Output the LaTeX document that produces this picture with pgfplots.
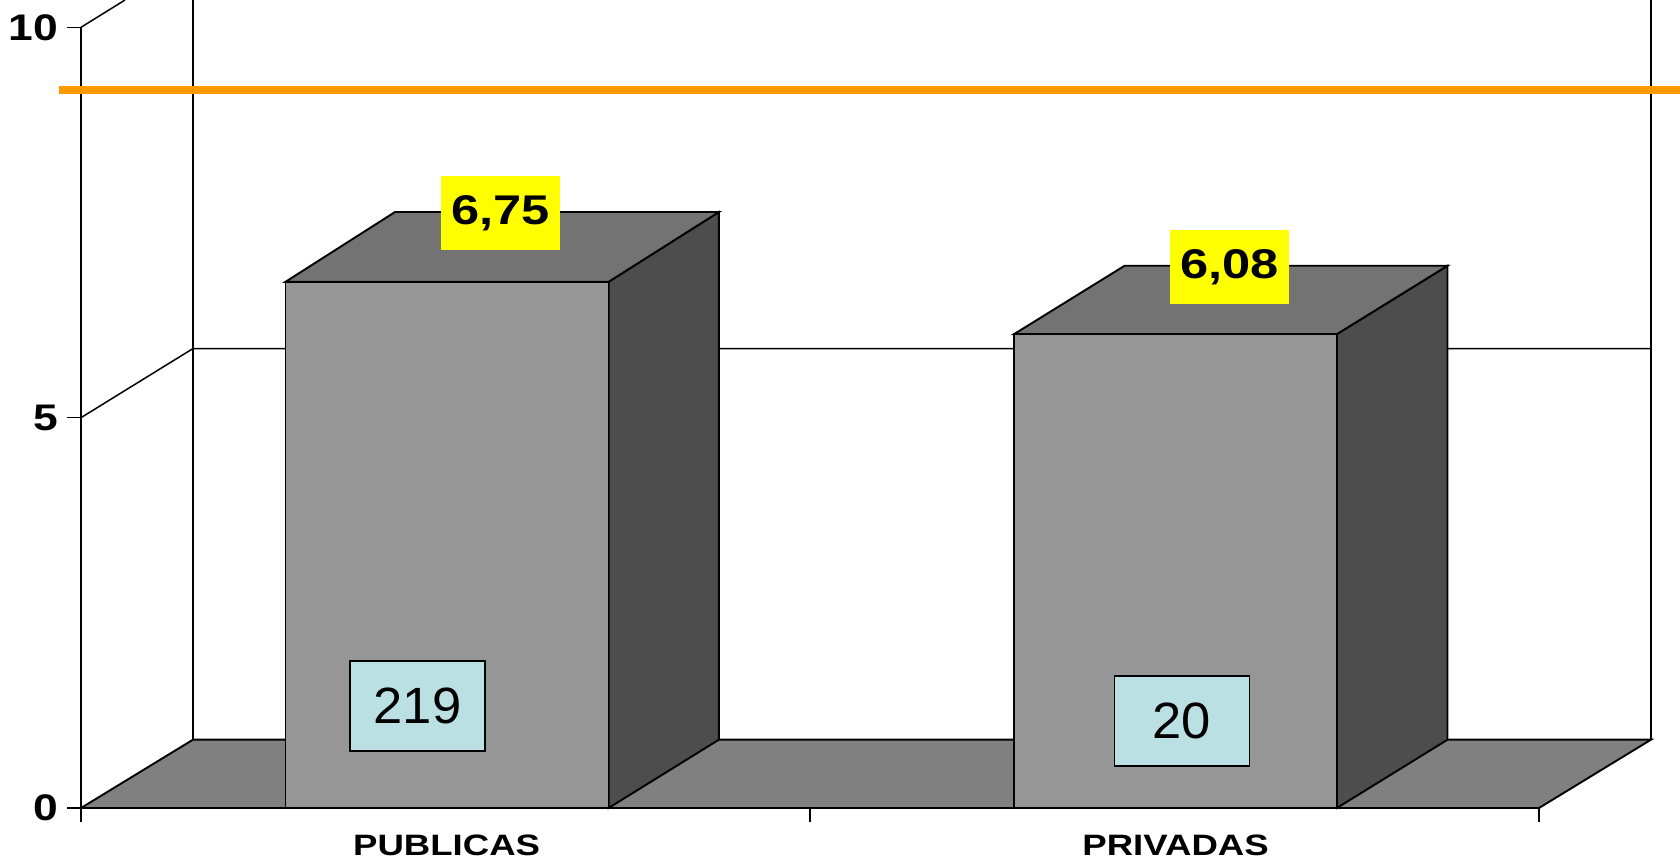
\documentclass[border=0pt]{standalone}
\usepackage{graphicx}
\usepackage{fontspec}
\setmainfont{Liberation Sans}
\usepackage{pgfplots}
\pgfplotsset{compat=1.18}
\definecolor{floorc}{HTML}{808080}
\definecolor{frontc}{HTML}{969696}
\definecolor{topc}{HTML}{737373}
\definecolor{sidec}{HTML}{4D4D4D}
\definecolor{orangec}{HTML}{FF9900}
\definecolor{boxc}{HTML}{BBE0E3}
\definecolor{yellowc}{RGB}{255,255,0}
\newcommand\sx[1]{\scalebox{1.2}[1]{#1}}
\newcommand\tickfont{\fontsize{37}{40}\selectfont\bfseries}
\begin{document}
\begin{tikzpicture}
\path[use as bounding box] (-81pt,-52pt) rectangle (1599pt,808pt);
\begin{axis}[
  scale only axis, width=1458pt, height=808pt,
  xmin=0, xmax=2, ymin=0, ymax=10.35,
  clip=false, no marks,
  axis lines=left,
  axis line style={draw=none,-},
  line width=1.9pt,
  tick style={black, line width=1.5pt},
  tick align=outside,
  major tick length=14pt,
  xtick={0,1,2}, xticklabels={,,},
  extra x ticks={0.5015,1.5015},
  extra x tick labels={\scalebox{1.24}[1]{PUBLICAS},\scalebox{1.24}[1]{PRIVADAS}},
  extra x tick style={major tick length=0pt, tick label style={font=\fontsize{29.5}{32}\selectfont\bfseries, yshift=-23pt}},
  ytick={0,5,10}, yticklabels={\sx{0},\sx{5},\sx{10}},
  yticklabel style={font=\tickfont, inner sep=0pt, xshift=-8pt},
]
% floor
\addplot[draw=black, fill=floorc] coordinates {(0,0)(0.1536,0.875)(2.1536,0.875)(2,0)} --cycle;
% back wall verticals and grid line
\addplot[black, line width=2pt] coordinates {(0.1536,0.875)(0.1536,10.35)};
\addplot[black, line width=2pt] coordinates {(2.1536,0.875)(2.1536,10.35)};
\addplot[black, line width=1.5pt] coordinates {(0,5)(0.1536,5.885)(2.1536,5.885)};
\addplot[black, line width=1.5pt] coordinates {(0,10)(0.0604,10.35)};
% front axis lines
\addplot[black, line width=1.8pt] coordinates {(0,0)(0,10)};
\addplot[black, line width=2pt] coordinates {(0,0)(2,0)};
% bar 1
\addplot[draw=black, fill=sidec] coordinates {(0.7237,0)(0.875,0.875)(0.875,7.634)(0.7237,6.74)} --cycle;
\addplot[draw=black, fill=topc] coordinates {(0.2805,6.74)(0.4307,7.634)(0.875,7.634)(0.7237,6.74)} --cycle;
\addplot[ybar, bar shift=0pt, bar width=323pt, draw=black, fill=frontc] coordinates {(0.5021,6.74)};
% bar 2
\addplot[draw=black, fill=sidec] coordinates {(1.7228,0)(1.8745,0.875)(1.8745,6.946)(1.7228,6.07)} --cycle;
\addplot[draw=black, fill=topc] coordinates {(1.2799,6.07)(1.4316,6.946)(1.8745,6.946)(1.7228,6.07)} --cycle;
\addplot[ybar, bar shift=0pt, bar width=323pt, draw=black, fill=frontc] coordinates {(1.5014,6.07)};
% reference line
\addplot[orangec, line width=8pt] coordinates {(-0.0302,9.2)(2.193,9.2)};
% labels
\node[fill=yellowc, minimum width=119pt, minimum height=74pt, inner sep=0pt, font=\fontsize{41.5}{44}\selectfont\bfseries] at (axis cs:0.5755,7.62) {\raisebox{-3pt}{\scalebox{1.22}[1]{6,75}}};
\node[fill=yellowc, minimum width=119pt, minimum height=74pt, inner sep=0pt, font=\fontsize{41.5}{44}\selectfont\bfseries] at (axis cs:1.5755,6.93) {\raisebox{-3pt}{\scalebox{1.22}[1]{6,08}}};
\node[draw=black, line width=1.7pt, fill=boxc, minimum width=135pt, minimum height=90pt, inner sep=0pt, font=\fontsize{51}{54}\selectfont] at (axis cs:0.4616,1.306) {\scalebox{1.03}[1]{219}};
\node[draw=black, line width=1.7pt, fill=boxc, minimum width=135pt, minimum height=90pt, inner sep=0pt, font=\fontsize{51}{54}\selectfont] at (axis cs:1.5103,1.114) {\scalebox{1.03}[1]{20}};
\end{axis}
\end{tikzpicture}
\end{document}
